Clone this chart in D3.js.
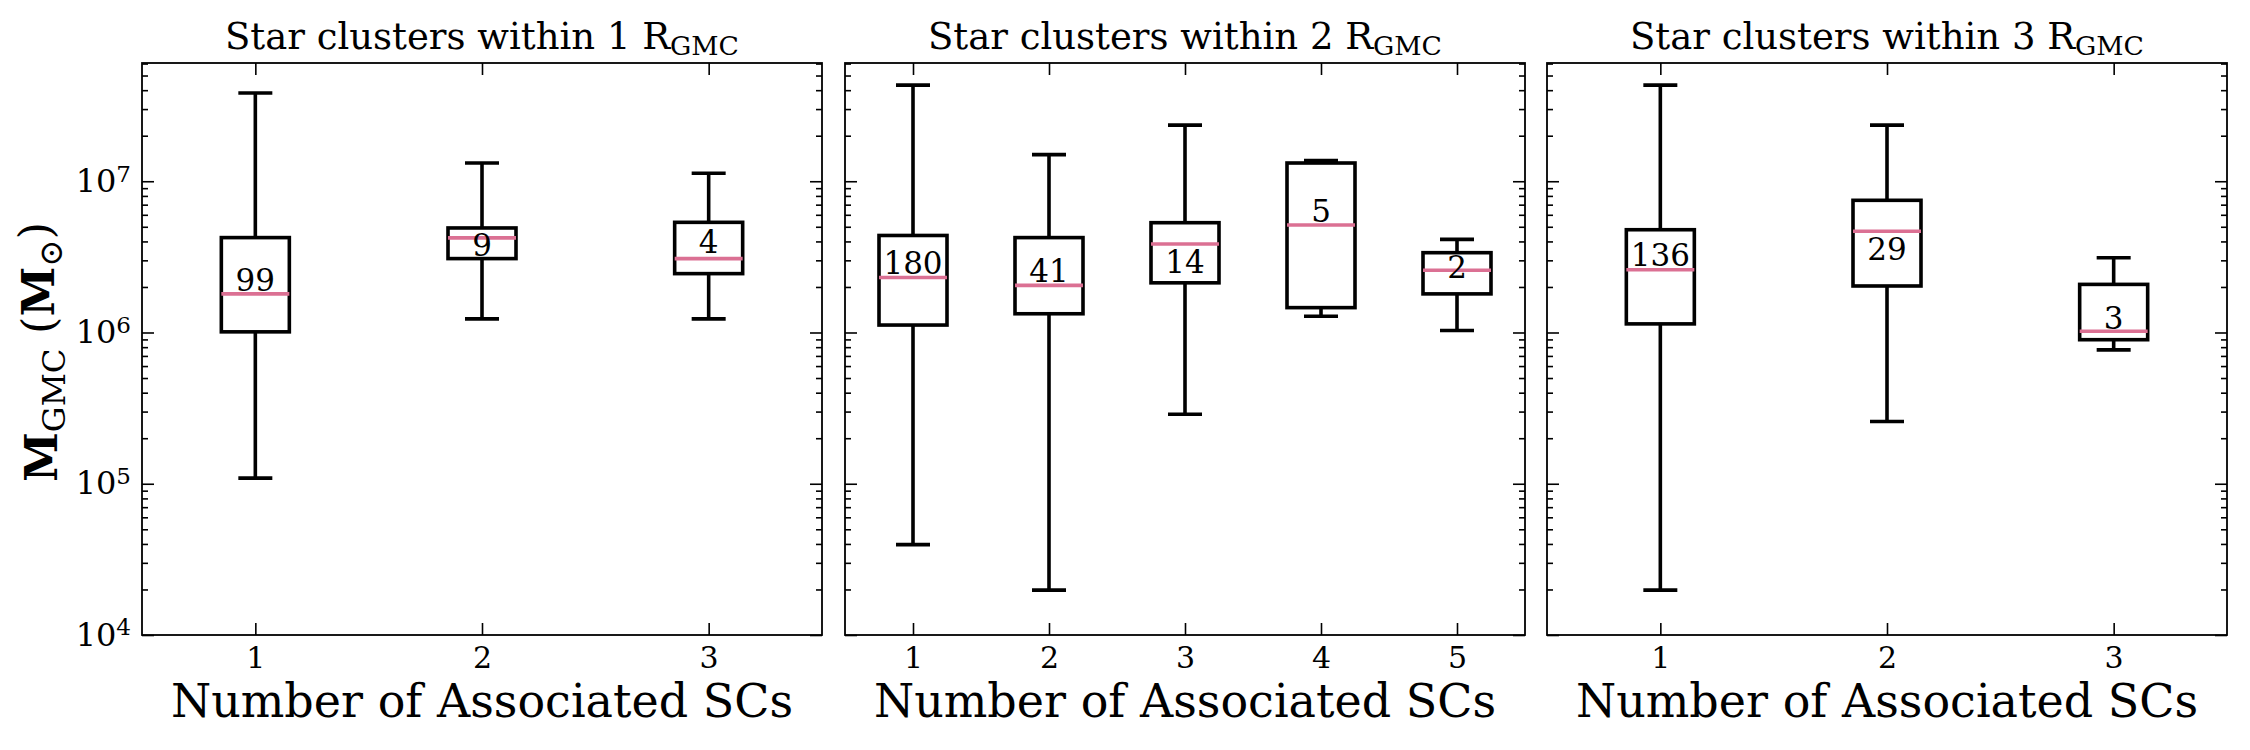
<!DOCTYPE html>
<html>
<head>
<meta charset="utf-8">
<script src="https://cdn.jsdelivr.net/npm/d3@7/dist/d3.min.js"></script>
<style>
  body { margin: 0; background: #fff; }
  svg { font-family: "DejaVu Serif", serif; }
  .tick line { stroke: #000; stroke-width: 1.6; }
</style>
</head>
<body>
<div id="chart"></div>
<script>
// --- datos ---
const radii = [1, 2, 3];
const categories = [[1, 2, 3], [1, 2, 3, 4, 5], [1, 2, 3]];
const counts = [[99, 9, 4], [180, 41, 14, 5, 2], [136, 29, 3]];
const whiskerLow = [[1.09e5, 1.23e6, 1.23e6], [3.96e4, 1.98e4, 2.88e5, 1.28e6, 1.03e6], [1.98e4, 2.58e5, 7.68e5]];
const q1 = [[1.01e6, 3.08e6, 2.45e6], [1.12e6, 1.33e6, 2.13e6, 1.46e6, 1.80e6], [1.14e6, 2.03e6, 8.96e5]];
const medians = [[1.80e6, 4.22e6, 3.08e6], [2.31e6, 2.05e6, 3.85e6, 5.14e6, 2.58e6], [2.60e6, 4.67e6, 1.02e6]];
const q3 = [[4.24e6, 4.91e6, 5.35e6], [4.38e6, 4.24e6, 5.32e6, 1.32e7, 3.37e6], [4.78e6, 7.48e6, 2.08e6]];
const whiskerHigh = [[3.83e7, 1.32e7, 1.13e7], [4.32e7, 1.50e7, 2.35e7, 1.37e7, 4.13e6], [4.32e7, 2.35e7, 3.12e6]];
const labelAt = [[2.22e6, 3.77e6, 3.94e6], [2.88e6, 2.54e6, 2.94e6, 6.35e6, 2.70e6], [3.24e6, 3.56e6, 1.25e6]];
const yMajor = [1e4, 1e5, 1e6, 1e7];
const yDomain = [1e4, 6.05e7];

// --- configuración ---
const W = 2250, H = 750;
const panelLeft = [142, 845, 1547];
const panelW = 680;
const plotTop = 63, plotBottom = 635;
const medianColor = "palevioletred";
const lw = 3.6;

const svg = d3.select("#chart").append("svg")
  .attr("width", W).attr("height", H);

const y = d3.scaleLog().domain(yDomain).range([plotBottom, plotTop]);

// minor ticks 2..9 por década
const yMinor = [];
for (let e = 4; e <= 7; e++) {
  for (let m = 2; m <= 9; m++) {
    const v = m * Math.pow(10, e);
    if (v < yDomain[1] * 0.995) yMinor.push(v);
  }
}

function supLabels(sel) {
  sel.selectAll(".tick text").each(function(d) {
    const t = d3.select(this).text(null);
    t.append("tspan").text("10");
    t.append("tspan").attr("dy", "-0.45em").attr("font-size", "0.72em").text(Math.round(Math.log10(d)));
  });
}

radii.forEach((r, p) => {
  const cats = categories[p];
  const g = svg.append("g").attr("transform", `translate(${panelLeft[p]},0)`);
  const x = d3.scaleLinear().domain([0.5, cats.length + 0.5]).range([0, panelW]);
  const bw = Math.min(0.15 * Math.max(d3.max(cats) - d3.min(cats), 1), 0.5);
  const boxPx = x(bw) - x(0);

  // ejes
  const axB = g.append("g").attr("transform", `translate(0,${plotBottom})`)
    .call(d3.axisBottom(x).tickValues(cats).tickSize(-12).tickPadding(12).tickFormat(d3.format("d")));
  axB.selectAll("text").attr("font-size", 30).attr("font-family", "DejaVu Serif").attr("fill", "#000");
  g.append("g").attr("transform", `translate(0,${plotTop})`)
    .call(d3.axisTop(x).tickValues(cats).tickSize(-12).tickFormat(""));

  const axL = g.append("g")
    .call(d3.axisLeft(y).tickValues(yMajor).tickSize(-12).tickPadding(11));
  axL.selectAll("text").attr("font-size", 32).attr("font-family", "DejaVu Serif").attr("fill", "#000");
  if (p === 0) supLabels(axL); else axL.selectAll("text").remove();
  g.append("g").call(d3.axisLeft(y).tickValues(yMinor).tickSize(-6).tickFormat(""));
  g.append("g").attr("transform", `translate(${panelW},0)`)
    .call(d3.axisRight(y).tickValues(yMajor).tickSize(-12).tickFormat(""));
  g.append("g").attr("transform", `translate(${panelW},0)`)
    .call(d3.axisRight(y).tickValues(yMinor).tickSize(-6).tickFormat(""));
  g.selectAll(".domain").remove();

  // cajas
  const boxes = cats.map((c, i) => ({
    c, lo: whiskerLow[p][i], q1: q1[p][i], med: medians[p][i], q3: q3[p][i],
    hi: whiskerHigh[p][i], n: counts[p][i], lab: labelAt[p][i]
  }));

  const bg = g.selectAll(".box").data(boxes).enter().append("g").attr("class", "box");
  bg.append("line")
    .attr("x1", d => x(d.c)).attr("x2", d => x(d.c))
    .attr("y1", d => y(d.q3)).attr("y2", d => y(d.hi))
    .attr("stroke", "#000").attr("stroke-width", lw);
  bg.append("line")
    .attr("x1", d => x(d.c)).attr("x2", d => x(d.c))
    .attr("y1", d => y(d.q1)).attr("y2", d => y(d.lo))
    .attr("stroke", "#000").attr("stroke-width", lw);
  [d => d.hi, d => d.lo].forEach(f => {
    bg.append("line")
      .attr("x1", d => x(d.c) - boxPx / 4).attr("x2", d => x(d.c) + boxPx / 4)
      .attr("y1", d => y(f(d))).attr("y2", d => y(f(d)))
      .attr("stroke", "#000").attr("stroke-width", lw);
  });
  bg.append("rect")
    .attr("x", d => x(d.c) - boxPx / 2).attr("width", boxPx)
    .attr("y", d => y(d.q3)).attr("height", d => y(d.q1) - y(d.q3))
    .attr("fill", "none").attr("stroke", "#000").attr("stroke-width", lw);
  bg.append("line")
    .attr("x1", d => x(d.c) - boxPx / 2).attr("x2", d => x(d.c) + boxPx / 2)
    .attr("y1", d => y(d.med)).attr("y2", d => y(d.med))
    .attr("stroke", medianColor).attr("stroke-width", lw);
  bg.append("text")
    .attr("x", d => x(d.c)).attr("y", d => y(d.lab))
    .attr("text-anchor", "middle").attr("dominant-baseline", "central")
    .attr("font-size", 31).text(d => d.n);

  // marco
  g.append("rect").attr("x", 0).attr("y", plotTop).attr("width", panelW).attr("height", plotBottom - plotTop)
    .attr("fill", "none").attr("stroke", "#000").attr("stroke-width", 1.8);

  // título
  const tt = g.append("text").attr("x", panelW / 2).attr("y", 49)
    .attr("text-anchor", "middle").attr("font-size", 37);
  tt.append("tspan").text(`Star clusters within ${r} R`);
  tt.append("tspan").attr("dy", "0.22em").attr("font-size", "0.72em").text("GMC");

  // etiqueta eje x
  g.append("text").attr("x", panelW / 2).attr("y", 717)
    .attr("text-anchor", "middle").attr("font-size", 46)
    .text("Number of Associated SCs");
});

// etiqueta eje y
const yl = svg.append("text")
  .attr("transform", "translate(57,352) rotate(-90)")
  .attr("text-anchor", "middle").attr("font-size", 45);
yl.append("tspan").attr("font-weight", "bold").text("M");
yl.append("tspan").attr("dy", "0.25em").attr("font-size", "0.72em").text("GMC");
yl.append("tspan").attr("dy", "-0.25em").text(" (");
yl.append("tspan").attr("font-weight", "bold").text("M");
yl.append("tspan").attr("dy", "0.25em").attr("font-size", "0.72em").text("⊙");
yl.append("tspan").attr("dy", "-0.25em").text(")");
</script>
</body>
</html>
